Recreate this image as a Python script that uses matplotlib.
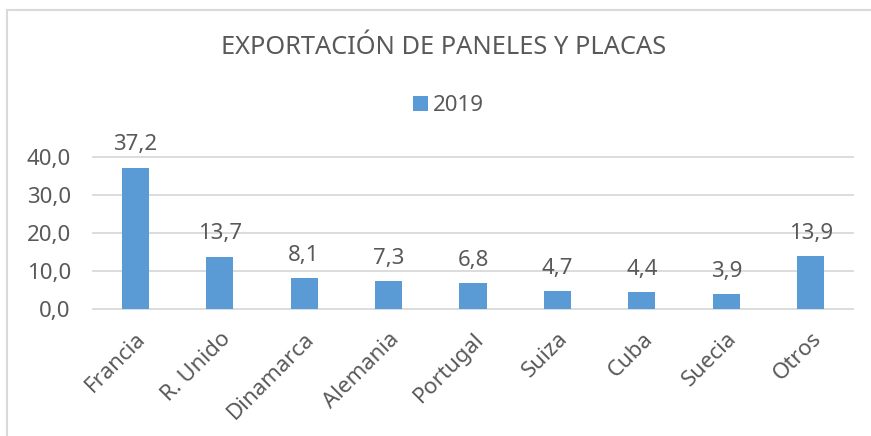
import matplotlib.pyplot as plt
import matplotlib.lines as mlines

plt.rcParams["font.family"] = ["Noto Sans", "DejaVu Sans"]

paises = ["Francia", "R. Unido", "Dinamarca", "Alemania", "Portugal",
          "Suiza", "Cuba", "Suecia", "Otros"]
valores_2019 = [37.2, 13.7, 8.1, 7.3, 6.8, 4.7, 4.4, 3.9, 13.9]
ticks_y = [0, 10, 20, 30, 40]

gris = "#595959"
azul = "#5B9BD5"

fig = plt.figure(figsize=(8.71, 4.36), dpi=100)
ax = fig.add_axes([0.1068, 0.2913, 0.8725, 0.3486])

x = range(len(paises))
barras = ax.bar(x, valores_2019, width=0.32, color=azul, label="2019", zorder=3)

for xi, v in zip(x, valores_2019):
    ax.annotate(f"{v:.1f}".replace(".", ","), (xi, v), xytext=(0, 9),
                textcoords="offset points", ha="center", va="bottom",
                fontsize=16, color=gris)

ax.set_xlim(-0.5, len(paises) - 0.5)
ax.set_ylim(0, 40)
ax.set_yticks(ticks_y)
ax.set_yticklabels([f"{t:.1f}".replace(".", ",") for t in ticks_y])
ax.yaxis.grid(True, color="#d9d9d9", linewidth=1.3, zorder=0)
for gl in ax.get_ygridlines():
    gl.set_clip_on(False)
ax.set_xticks(list(x))
ax.set_xticklabels(paises, rotation=45, ha="right", rotation_mode="anchor")
ax.tick_params(axis="both", length=0, labelsize=16, labelcolor=gris)
ax.tick_params(axis="y", pad=16)
ax.tick_params(axis="x", pad=14)
for s in ax.spines.values():
    s.set_visible(False)
ax.set_axisbelow(True)

fig.text(0.509, 0.89, "EXPORTACIÓN DE PANELES Y PLACAS", ha="center",
         va="center", fontsize=18.3, color=gris)
fig.legend(handles=[barras], loc="center", bbox_to_anchor=(0.515, 0.758),
           frameon=False, fontsize=16, labelcolor=gris, handlelength=0.65,
           handleheight=0.65, handletextpad=0.25)

# marco del grafico (solo izquierda y arriba visibles)
fig.add_artist(mlines.Line2D([7 / 871, 7 / 871], [0, 1 - 10 / 436],
                             color="#d9d9d9", linewidth=1.5))
fig.add_artist(mlines.Line2D([7 / 871, 1], [1 - 10 / 436, 1 - 10 / 436],
                             color="#d9d9d9", linewidth=1.5))

fig.savefig("out.png", dpi=100)
